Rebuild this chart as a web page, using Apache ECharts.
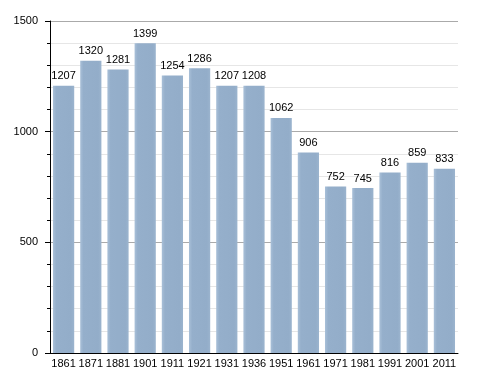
<!DOCTYPE html>
<html><head><meta charset="utf-8">
<script src="https://cdn.jsdelivr.net/npm/echarts@6/dist/echarts.min.js"></script>
<style>html,body{margin:0;padding:0;background:#fff}#c{width:488px;height:373px}</style>
</head><body><div id="c"></div>
<script>
const years = ['1861','1871','1881','1901','1911','1921','1931','1936','1951','1961','1971','1981','1991','2001','2011'];
const population = [1207,1320,1281,1399,1254,1286,1207,1208,1062,906,752,745,816,859,833];
const yTicks = [0,500,1000,1500];

const chart = echarts.init(document.getElementById('c'));
const font = 'Liberation Sans, Arial, sans-serif';
chart.setOption({
  animation:false,
  grid:{left:50,right:30,top:21,bottom:20,containLabel:false},
  xAxis:{type:'category',data:years,
    axisLine:{lineStyle:{color:'#000',width:1}},
    axisTick:{show:false},
    axisLabel:{color:'#000',fontFamily:font,fontSize:11,margin:5,interval:0,hideOverlap:false}},
  yAxis:[{type:'value',min:0,max:1500,interval:500,
    axisLine:{show:true,lineStyle:{color:'#000'}},
    axisTick:{show:true,length:5,lineStyle:{color:'#000'}},
    minorTick:{show:true,splitNumber:5,length:3,lineStyle:{color:'#000'}},
    splitLine:{show:true,lineStyle:{color:'#aaa',width:1}},
    minorSplitLine:{show:true,lineStyle:{color:'#e6e6e6',width:1}},
    axisLabel:{color:'#000',fontFamily:font,fontSize:11,margin:12,
      formatter:v=>yTicks.includes(v)?String(v):''}}],
  series:[{type:'bar',data:population,barCategoryGap:'22%',
    itemStyle:{color:new echarts.graphic.LinearGradient(0,0,1,0,[
      {offset:0,color:'#a9c0d8'},{offset:0.15,color:'#95afcb'},{offset:0.85,color:'#93adc9'},{offset:1,color:'#9bb4ce'}])},
    label:{show:true,position:'top',distance:4,color:'#000',fontFamily:font,fontSize:11}}]
});
</script></body></html>
